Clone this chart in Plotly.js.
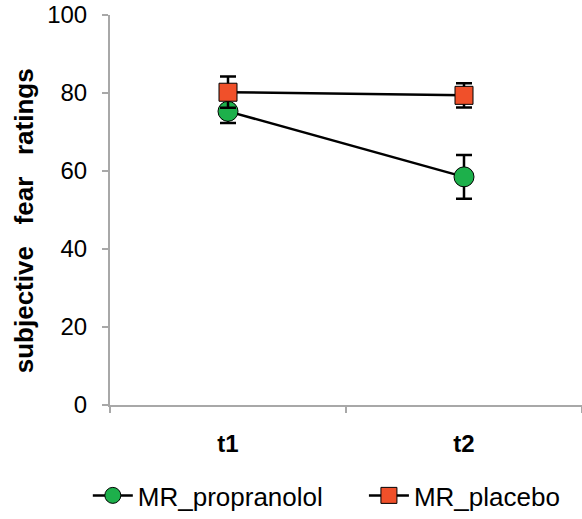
<!DOCTYPE html>
<html>
<head>
<meta charset="utf-8">
<script src="https://cdn.plot.ly/plotly-3.0.1.min.js"></script>
<style>html,body{margin:0;padding:0;background:#fff;}</style>
</head>
<body>
<div id="chart" style="width:582px;height:519px;"></div>
<script>
const categories = ["t1", "t2"];
const propranololMean = [75.3, 58.5];
const propranololErr = [3.0, 5.6];
const placeboMean = [80.2, 79.4];
const placeboErr = [4.0, 3.1];
const yTicks = [0, 20, 40, 60, 80, 100];
const seriesNames = ["MR_propranolol", "MR_placebo"];

const font = "Liberation Sans, Arial, Helvetica, sans-serif";
const sp = "\u00a0\u00a0\u00a0";

const traces = [
  {
    x: categories, y: propranololMean, name: seriesNames[0] + "\u00a0\u00a0\u00a0\u00a0\u00a0",
    type: "scatter", mode: "lines+markers",
    line: {color: "#000", width: 2.5},
    marker: {symbol: "circle", size: 20, color: "#1DB04B", line: {color: "#000", width: 1}},
    error_y: {type: "data", array: propranololErr, visible: true, color: "#000", thickness: 2.5, width: 8}
  },
  {
    x: categories, y: placeboMean, name: seriesNames[1],
    type: "scatter", mode: "lines+markers",
    line: {color: "#000", width: 2.5},
    marker: {symbol: "square", size: 18, color: "#F0502A", line: {color: "#000", width: 1}},
    error_y: {type: "data", array: placeboErr, visible: true, color: "#000", thickness: 2.5, width: 8}
  }
];

const layout = {
  width: 582, height: 519,
  margin: {l: 110, r: 0, t: 15, b: 111},
  paper_bgcolor: "#fff", plot_bgcolor: "#fff",
  font: {family: font, color: "#000", size: 24},
  showlegend: true,
  legend: {
    orientation: "h", x: -0.047, xanchor: "left", y: -0.232, yanchor: "middle",
    font: {family: font, size: 26, color: "#000"},
    itemwidth: 40, traceorder: "normal"
  },
  xaxis: {
    type: "category", range: [-0.5, 1.5],
    showline: true, linecolor: "#A8A8A8", linewidth: 2,
    ticks: "outside", tickson: "boundaries", ticklen: 6, tickwidth: 2, tickcolor: "#A8A8A8",
    showgrid: false, zeroline: false,
    tickfont: {family: font, size: 24, color: "#000", weight: "bold"},
    ticklabelstandoff: 16
  },
  yaxis: {
    range: [0, 100], tickvals: yTicks, ticktext: yTicks.map(String),
    showline: true, linecolor: "#A8A8A8", linewidth: 2,
    ticks: "outside", ticklen: 6, tickwidth: 2, tickcolor: "#A8A8A8",
    showgrid: false, zeroline: false,
    tickfont: {family: font, size: 24, color: "#000"},
    ticklabelstandoff: 10,
    title: {text: "subjective" + sp + "fear" + sp + "ratings" + sp + "\u200b", font: {family: font, size: 26, color: "#000", weight: "bold"}, standoff: 6}
  }
};

Plotly.newPlot("chart", traces, layout, {displayModeBar: false, staticPlot: true});
</script>
</body>
</html>
